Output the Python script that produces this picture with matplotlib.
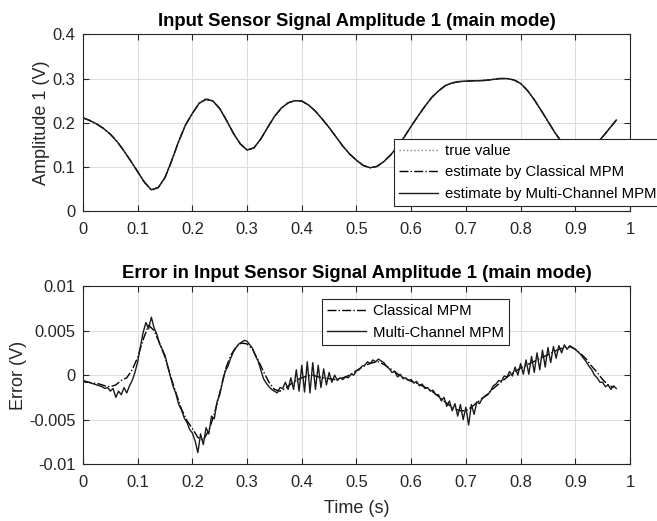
import numpy as np
import matplotlib
matplotlib.use("Agg")
import matplotlib.pyplot as plt

# ---- data ----
# amplitude 1 (V), sampled every 0.0125 s from 0 to 0.975 s
amp_true = [
    0.211, 0.205, 0.197, 0.187, 0.174, 0.157, 0.136, 0.113, 0.089, 0.064,
    0.047, 0.052, 0.075, 0.115, 0.158, 0.195, 0.222, 0.245, 0.255, 0.250,
    0.232, 0.205, 0.176, 0.152, 0.138, 0.143, 0.163, 0.189, 0.214, 0.233,
    0.245, 0.250, 0.249, 0.240, 0.226, 0.208, 0.189, 0.168, 0.147, 0.129,
    0.115, 0.103, 0.098, 0.101, 0.112, 0.127, 0.146, 0.168, 0.192, 0.215,
    0.237, 0.257, 0.272, 0.284, 0.291, 0.294, 0.295, 0.295, 0.296, 0.297,
    0.298, 0.300, 0.300, 0.297, 0.289, 0.273, 0.252, 0.228, 0.203, 0.178,
    0.156, 0.140, 0.132, 0.130, 0.137, 0.152, 0.168, 0.187, 0.206,
]
# the two estimates sit on top of the true value at this scale
amp_classical = [
    0.211, 0.205, 0.197, 0.187, 0.174, 0.157, 0.136, 0.113, 0.089, 0.065,
    0.048, 0.053, 0.076, 0.115, 0.158, 0.195, 0.221, 0.244, 0.253, 0.249,
    0.232, 0.205, 0.176, 0.152, 0.138, 0.143, 0.163, 0.189, 0.214, 0.233,
    0.245, 0.250, 0.249, 0.240, 0.226, 0.208, 0.189, 0.168, 0.147, 0.129,
    0.115, 0.103, 0.098, 0.101, 0.112, 0.127, 0.146, 0.168, 0.192, 0.215,
    0.237, 0.257, 0.272, 0.284, 0.290, 0.293, 0.294, 0.295, 0.295, 0.296,
    0.298, 0.300, 0.300, 0.297, 0.289, 0.273, 0.252, 0.228, 0.203, 0.178,
    0.156, 0.140, 0.132, 0.130, 0.137, 0.152, 0.168, 0.187, 0.206,
]
amp_multi = amp_classical

# error (x1e-3 V), Multi-Channel MPM, every 0.005 s from 0 to 0.975 s
err_multi_mv = [
    -0.7, -0.8, -0.8, -0.9, -1.0, -1.1, -1.2, -1.3, -1.5, -1.4,
    -1.8, -1.5, -2.5, -1.8, -2.2, -1.4, -2.0, -1.2, -0.6, 0.3,
    1.5, 3.2, 4.8, 5.9, 5.2, 6.5, 5.3, 4.6, 3.5, 2.9,
    2.2, 1.0, -0.2, -1.3, -2.1, -3.3, -3.9, -4.8, -5.3, -6.1,
    -6.5, -7.4, -8.7, -6.6, -7.8, -5.9, -6.6, -4.6, -4.9, -3.0,
    -2.2, -0.8, 0.4, 1.0, 1.9, 2.6, 3.1, 3.5, 3.7, 3.9,
    3.8, 3.4, 3.0, 2.2, 1.6, 0.6, -0.4, -0.9, -1.3, -1.6,
    -1.8, -2.0, -1.4, -1.5, -0.8, -1.6, -0.3, -1.6, 0.6, -1.8,
    1.1, -1.9, 1.5, -2.0, 1.4, -1.6, 1.1, -1.4, 0.7, -1.1,
    0.3, -0.8, 0.0, -0.6, -0.3, -0.5, -0.2, -0.3, 0.1, 0.0,
    0.5, 0.6, 1.0, 1.1, 1.5, 1.3, 1.7, 1.5, 1.8, 1.6,
    1.4, 1.0, 0.7, 0.3, 0.4, -0.2, 0.1, -0.4, -0.3, -0.6,
    -0.5, -0.9, -0.7, -1.2, -1.0, -1.5, -1.4, -1.8, -1.7, -2.2,
    -2.2, -2.9, -2.5, -3.5, -2.9, -4.0, -3.2, -4.6, -3.3, -5.0,
    -3.6, -5.6, -3.3, -4.4, -3.0, -3.2, -2.6, -2.4, -2.2, -1.8,
    -1.2, -1.0, -0.6, -0.7, -0.1, -0.2, 0.4, -0.1, 0.9, 0.0,
    1.3, 0.1, 1.7, 0.1, 2.1, 0.3, 2.5, 0.6, 2.8, 0.9,
    3.1, 1.4, 3.2, 1.9, 3.3, 2.5, 3.4, 2.9, 3.3, 3.1,
    2.9, 2.6, 2.3, 1.9, 1.5, 1.0, 0.6, 0.0, -0.3, -0.8,
    -0.8, -1.3, -1.1, -1.6, -1.2, -1.5,
]
# error (x1e-3 V), Classical MPM, every 0.01 s from 0 to 0.97 s
err_classical_mv = [
    -0.6, -0.8, -0.9, -1.0, -1.2, -1.3, -1.1, -0.6, -0.3, 0.6,
    2.0, 4.0, 5.6, 5.0, 3.6, 2.0, -0.1, -2.0, -3.8, -5.1,
    -6.0, -7.0, -7.3, -6.2, -4.4, -2.0, 0.6, 2.2, 3.2, 3.6,
    3.5, 2.9, 1.7, 0.4, -0.8, -1.6, -1.8, -1.5, -1.0, -0.6,
    -0.3, -0.1, 0.0, -0.2, -0.3, -0.4, -0.5, -0.4, -0.2, 0.1,
    0.5, 0.9, 1.2, 1.4, 1.5, 1.2, 0.8, 0.4, -0.1, -0.4,
    -0.7, -0.9, -1.2, -1.5, -1.9, -2.4, -2.9, -3.4, -3.8, -4.0,
    -4.0, -3.6, -3.1, -2.6, -2.1, -1.5, -1.0, -0.5, 0.0, 0.4,
    0.8, 1.1, 1.4, 1.7, 2.0, 2.3, 2.6, 2.9, 3.1, 3.2,
    2.9, 2.4, 1.8, 1.0, 0.3, -0.5, -1.1, -1.4,
]

t_amp = np.linspace(0, 0.975, len(amp_true))
t_multi = np.linspace(0, 0.975, len(err_multi_mv))
t_classical = np.linspace(0, 0.97, len(err_classical_mv))
err_multi = np.array(err_multi_mv) * 1e-3
err_classical = np.array(err_classical_mv) * 1e-3

# ---- style (MATLAB-like) ----
dark = "#262626"
plt.rcParams["font.family"] = ["Liberation Sans", "DejaVu Sans"]
plt.rcParams["axes.edgecolor"] = dark
plt.rcParams["axes.linewidth"] = 0.8
plt.rcParams["xtick.color"] = dark
plt.rcParams["ytick.color"] = dark
plt.rcParams["xtick.direction"] = "in"
plt.rcParams["ytick.direction"] = "in"
plt.rcParams["xtick.top"] = True
plt.rcParams["ytick.right"] = True
plt.rcParams["xtick.major.size"] = 4
plt.rcParams["ytick.major.size"] = 4
plt.rcParams["xtick.major.pad"] = 8
plt.rcParams["ytick.major.pad"] = 5.5
plt.rcParams["xtick.labelsize"] = 11.9
plt.rcParams["ytick.labelsize"] = 11.9


def style_axes(ax):
    ax.grid(True, color="#dcdcdc", linewidth=0.7)
    ax.set_axisbelow(True)
    ax.set_xlim(0, 1)
    ax.set_xticks(np.arange(0, 1.01, 0.1))
    ax.set_xticklabels(["0", "0.1", "0.2", "0.3", "0.4", "0.5",
                        "0.6", "0.7", "0.8", "0.9", "1"])
    for lab in ax.get_xticklabels() + ax.get_yticklabels():
        lab.set_color(dark)


def add_legend(ax, loc, anchor):
    leg = ax.legend(loc=loc, bbox_to_anchor=anchor,
                    fontsize=10.7, frameon=True, fancybox=False,
                    handlelength=2.6, handletextpad=0.45, borderpad=0.35,
                    borderaxespad=0, labelspacing=0.5)
    leg.get_frame().set_edgecolor(dark)
    leg.get_frame().set_linewidth(0.8)
    leg.get_frame().set_alpha(1)
    return leg


fig = plt.figure(figsize=(6.57, 5.21), dpi=100)
ax1 = fig.add_axes([0.1263, 0.595, 0.8326, 0.339])
ax2 = fig.add_axes([0.1263, 0.109, 0.8326, 0.342])

# top: amplitude
ax1.plot(t_amp, amp_true, ":", color="#808080", lw=1.0, label="true value")
ax1.plot(t_amp, amp_classical, "-.", color="black", lw=1.0,
         label="estimate by Classical MPM")
ax1.plot(t_amp, amp_multi, "-", color="#1a1a1a", lw=1.0,
         label="estimate by Multi-Channel MPM")
style_axes(ax1)
ax1.set_ylim(0, 0.4)
ax1.set_yticks([0, 0.1, 0.2, 0.3, 0.4])
ax1.set_yticklabels(["0", "0.1", "0.2", "0.3", "0.4"])
ax1.set_ylabel("Amplitude 1 (V)", fontsize=13, color=dark, labelpad=2)
ax1.set_title("Input Sensor Signal Amplitude 1 (main mode)",
              fontsize=13.3, fontweight="bold", color="black", pad=6)
add_legend(ax1, "lower left", (0.569, 0.028))

# bottom: error
ax2.plot(t_classical, err_classical, "-.", color="black", lw=1.0,
         label="Classical MPM")
ax2.plot(t_multi, err_multi, "-", color="#1a1a1a", lw=1.0,
         label="Multi-Channel MPM")
style_axes(ax2)
ax2.set_ylim(-0.01, 0.01)
ax2.set_yticks([-0.01, -0.005, 0, 0.005, 0.01])
ax2.set_yticklabels(["-0.01", "-0.005", "0", "0.005", "0.01"])
ax2.set_ylabel("Error (V)", fontsize=13, color=dark, labelpad=1.5)
ax2.set_xlabel("Time (s)", fontsize=13, color=dark, labelpad=7)
ax2.set_title("Error in Input Sensor Signal Amplitude 1 (main mode)",
              fontsize=13.3, fontweight="bold", color="black", pad=6)
add_legend(ax2, "upper left", (0.437, 0.927))

fig.savefig("out.png", dpi=100)
